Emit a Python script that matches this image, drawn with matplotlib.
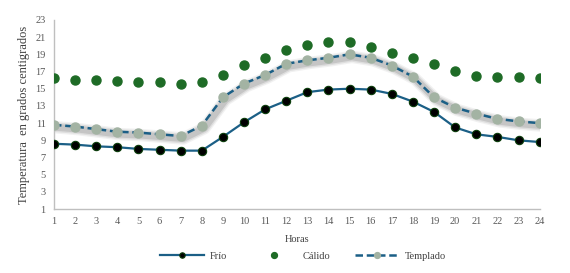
import matplotlib
matplotlib.use("Agg")
import matplotlib.pyplot as plt
import matplotlib.transforms as mtransforms

hours = list(range(1, 25))
frio = [8.6, 8.5, 8.3, 8.2, 8.0, 7.9, 7.8, 7.8, 9.4, 11.1, 12.6, 13.6,
        14.6, 14.9, 15.0, 14.9, 14.4, 13.5, 12.3, 10.5, 9.7, 9.4, 9.0, 8.8]
calido = [16.3, 16.0, 16.0, 15.9, 15.8, 15.8, 15.6, 15.8, 16.6, 17.8, 18.6, 19.5,
          20.1, 20.4, 20.4, 19.9, 19.1, 18.6, 17.9, 17.1, 16.5, 16.4, 16.4, 16.2]
templado = [10.8, 10.6, 10.3, 10.0, 9.9, 9.7, 9.5, 10.7, 14.0, 15.6, 16.6, 17.9,
            18.3, 18.6, 19.0, 18.6, 17.7, 16.4, 14.0, 12.8, 12.1, 11.5, 11.2, 11.0]
yticks = list(range(1, 24, 2))

plt.rcParams['font.family'] = ['Liberation Serif', 'DejaVu Serif']

fig = plt.figure(figsize=(5.7, 2.73), dpi=100)
ax = fig.add_axes([0.0947, 0.234, 0.852, 0.693])

line_col = '#1b5f86'
# soft shadow under the Templado series
shadow_tr = ax.transData + mtransforms.ScaledTranslation(2.5 / 100, -2.5 / 100, fig.dpi_scale_trans)
for lw, a in [(9, 0.08), (7, 0.12), (5, 0.18)]:
    ax.plot(hours, templado, color='#555555', lw=lw, alpha=a, transform=shadow_tr,
            solid_capstyle='round', solid_joinstyle='round', zorder=2)

ax.plot(hours, frio, color=line_col, lw=1.6, marker='o', markersize=6,
        markerfacecolor='black', markeredgecolor='#0b3d0b', markeredgewidth=0.8,
        label='Frío', zorder=3)
ax.plot(hours, calido, ls='none', marker='o', markersize=6.5,
        markerfacecolor='#1e6b26', markeredgecolor='#1e6b26', label='Cálido', zorder=3)
ax.plot(hours, templado, color=line_col, lw=1.8, ls=(0, (3, 1.5)), marker='o', markersize=6.5,
        markerfacecolor='#a3b3a3', markeredgecolor='#a3b3a3', label='Templado', zorder=3)

ax.set_xlim(1, 24)
ax.set_ylim(1, 23)
ax.set_xticks(hours)
ax.set_yticks(yticks)
for s in ['top', 'right']:
    ax.spines[s].set_visible(False)
for s in ['left', 'bottom']:
    ax.spines[s].set_color('#bfbfbf')
    ax.spines[s].set_linewidth(1.0)
ax.tick_params(length=0, labelsize=7.5, labelcolor='#595959', pad=6)
ax.set_xlabel('Horas', fontsize=7.5, color='#404040', labelpad=6)
ax.set_ylabel('Temperatura  en grados centigrados', fontsize=9, color='#404040', labelpad=4)

leg = fig.legend(loc='center', bbox_to_anchor=(0.532, 0.062), ncol=3, frameon=False,
                 fontsize=7.5, handlelength=4.2, columnspacing=2.4, handletextpad=0.6,
                 markerscale=0.65)
for t in leg.get_texts():
    t.set_color('#404040')

fig.savefig('out.png', dpi=100)
